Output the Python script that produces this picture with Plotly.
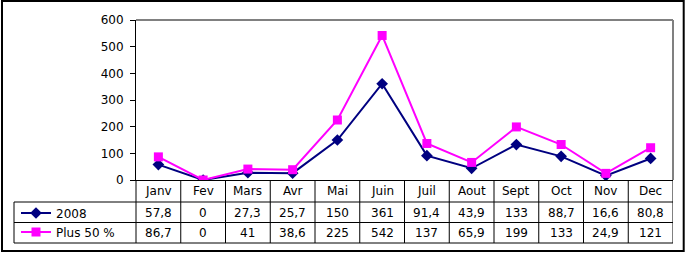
import plotly.graph_objects as go

months = ["Janv", "Fev", "Mars", "Avr", "Mai", "Juin", "Juil", "Aout", "Sept", "Oct", "Nov", "Dec"]
s2008 = [57.8, 0, 27.3, 25.7, 150, 361, 91.4, 43.9, 133, 88.7, 16.6, 80.8]
plus50 = [86.7, 0, 41, 38.6, 225, 542, 137, 65.9, 199, 133, 24.9, 121]
series_names = ["2008", "Plus 50 %"]
yticks = [0, 100, 200, 300, 400, 500, 600]

W, H = 687, 255
L, R, T, B = 136, 673, 20, 180
FONT = "DejaVu Sans"
FS = 12


def px(x):
    return (x - L) / (R - L)


def py(y):
    return (B - y) / (B - T)


def fmt(v):
    s = ("%g" % v).replace(".", ",")
    return s


xs = list(range(len(months)))

fig = go.Figure()
fig.add_trace(go.Scatter(x=xs, y=s2008, name=series_names[0], mode="lines+markers",
                         line=dict(color="#000080", width=2),
                         marker=dict(symbol="diamond", size=9, color="#000080")))
fig.add_trace(go.Scatter(x=xs, y=plus50, name=series_names[1], mode="lines+markers",
                         line=dict(color="#FF00FF", width=2),
                         marker=dict(symbol="square", size=9, color="#FF00FF")))

shapes = []
black = dict(color="black", width=1)
# outer border
shapes.append(dict(type="rect", xref="paper", yref="paper", x0=px(2), x1=px(683.7),
                   y0=py(1), y1=py(251), line=dict(color="black", width=2), layer="above"))
# plot area gray border top/right
shapes.append(dict(type="line", xref="paper", yref="paper", x0=px(L), x1=px(R),
                   y0=py(T), y1=py(T), line=dict(color="#808080", width=2)))
shapes.append(dict(type="line", xref="paper", yref="paper", x0=px(R), x1=px(R),
                   y0=py(T), y1=py(B), line=dict(color="#808080", width=2)))
# table horizontals
rows_y = [202, 222.5, 243]
for yy in rows_y:
    shapes.append(dict(type="line", xref="paper", yref="paper", x0=px(14), x1=px(R),
                       y0=py(yy), y1=py(yy), line=black))
# table verticals
shapes.append(dict(type="line", xref="paper", yref="paper", x0=px(14), x1=px(14),
                   y0=py(202), y1=py(243), line=black))
shapes.append(dict(type="line", xref="paper", yref="paper", x0=px(L), x1=px(L),
                   y0=py(B), y1=py(243), line=black))
for k in range(len(months)):
    shapes.append(dict(type="line", xref="x", yref="paper", x0=k + 0.5, x1=k + 0.5,
                       y0=py(B), y1=py(243), line=black))

annotations = []
row_text_y = [191, 212.5, 233]
for i, m in enumerate(months):
    annotations.append(dict(x=i, y=py(row_text_y[0]), xref="x", yref="paper", text=m,
                            showarrow=False, font=dict(family=FONT, size=FS, color="black"),
                            xanchor="center", yanchor="middle"))
    annotations.append(dict(x=i, y=py(row_text_y[1]), xref="x", yref="paper", text=fmt(s2008[i]),
                            showarrow=False, font=dict(family=FONT, size=FS, color="black"),
                            xanchor="center", yanchor="middle"))
    annotations.append(dict(x=i, y=py(row_text_y[2]), xref="x", yref="paper", text=fmt(plus50[i]),
                            showarrow=False, font=dict(family=FONT, size=FS, color="black"),
                            xanchor="center", yanchor="middle"))

fig.update_layout(
    width=W, height=H,
    margin=dict(l=L, r=W - R, t=T, b=H - B, pad=0, autoexpand=False),
    paper_bgcolor="white", plot_bgcolor="white",
    showlegend=True,
    legend=dict(x=px(16), y=py(198.5), xanchor="left", yanchor="top",
                font=dict(family=FONT, size=FS, color="black"),
                bgcolor="rgba(0,0,0,0)", borderwidth=0, tracegroupgap=0,
                itemwidth=30),
    xaxis=dict(range=[-0.5, 11.5], showticklabels=False, ticks="", showgrid=False,
               zeroline=False, showline=True, linecolor="black", linewidth=1, fixedrange=True),
    yaxis=dict(range=[0, 600], tickvals=yticks, ticks="outside", ticklen=5, tickcolor="black",
               showgrid=False, zeroline=False, showline=True, linecolor="black", linewidth=1,
               ticklabelstandoff=4,
               tickfont=dict(family=FONT, size=FS, color="black"), fixedrange=True),
    shapes=shapes, annotations=annotations,
    font=dict(family=FONT, size=FS, color="black"),
)

fig.write_html("out.html")
